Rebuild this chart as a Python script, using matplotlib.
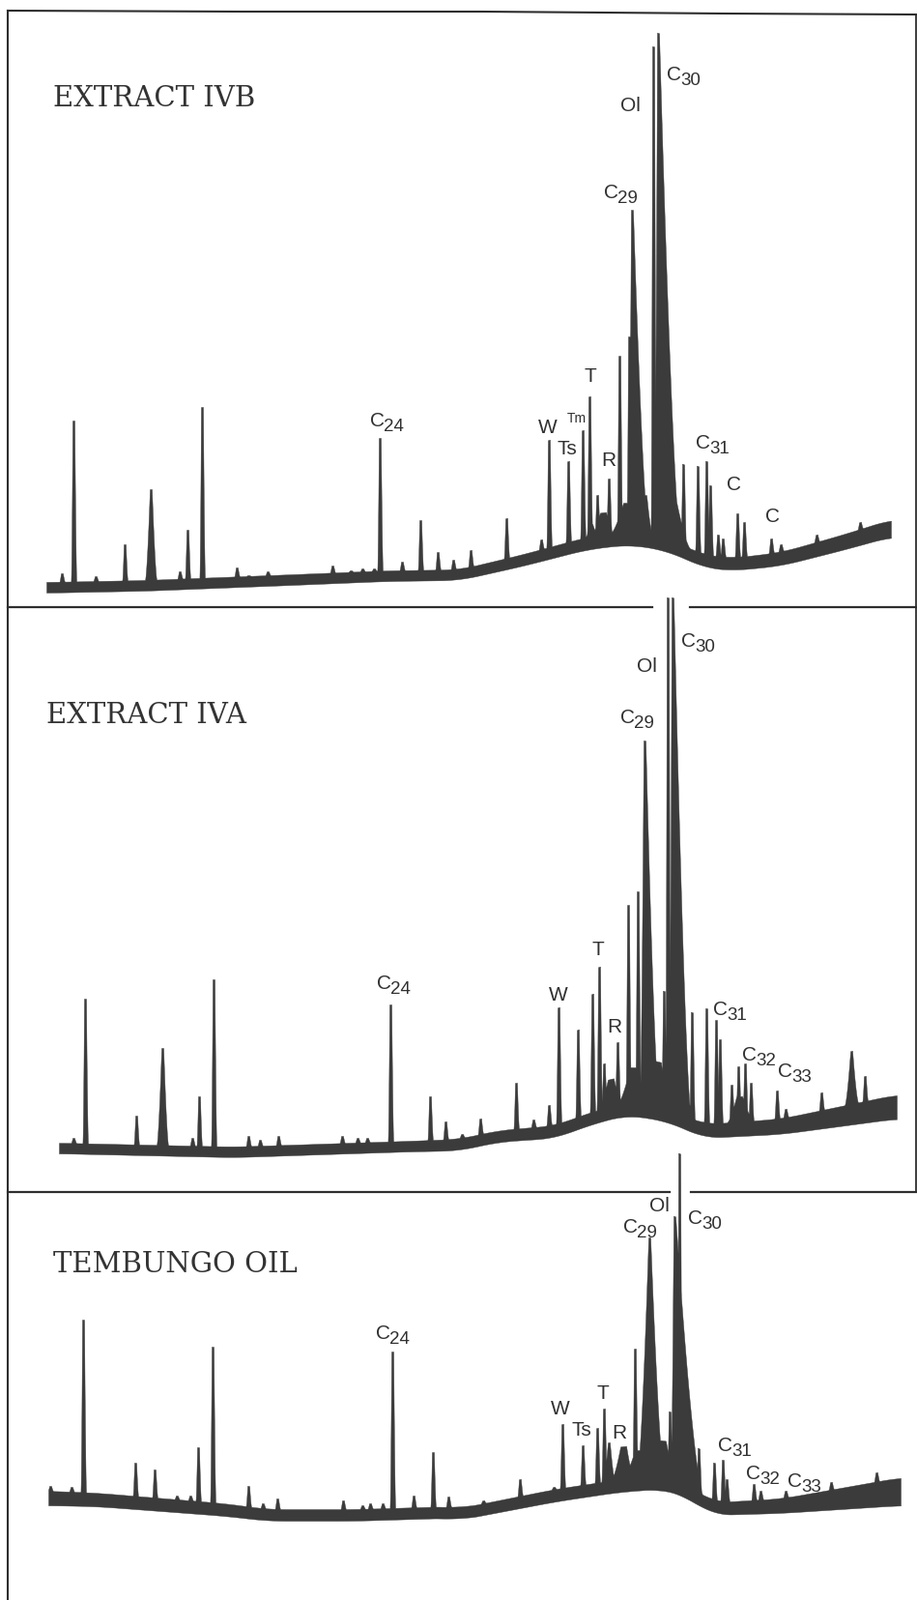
import numpy as np
import matplotlib.pyplot as plt

plt.rcParams['font.family'] = ['Liberation Sans', 'DejaVu Sans']

INK = '#3b3b3b'
RULE = '#2e2e2e'

# ---- EXTRACT IVB
ivb_base_x = [48, 150, 303, 400, 475, 542, 608, 652, 692, 728, 758, 808, 875, 922]
ivb_base_y = [613, 611, 605, 601, 600, 585, 568, 563, 570, 587, 590, 585, 568, 555]
ivb_band = [11, 11, 11, 11, 11, 12, 13, 13, 13, 13, 13, 14, 16, 18]
ivb_peak_x = [64, 76, 99, 129, 186, 194, 209, 245, 257, 277, 344, 363, 375, 387, 393,
              416, 435, 453, 469, 487, 524, 542, 560, 568, 588, 603, 610, 618, 630,
              641, 651, 660, 676, 677, 707, 722, 731, 735, 743, 748, 763, 770, 798,
              808, 845, 890]
ivb_peak_top = [593, 435, 596, 563, 591, 548, 421, 587, 595, 591, 585, 590, 588, 588, 453,
                581, 538, 571, 579, 569, 536, 575, 558, 455, 477, 445, 410, 512, 495,
                368, 348, 395, 48, 448, 480, 482, 477, 502, 553, 557, 531, 540, 557,
                563, 553, 540]
ivb_wide_x = [156, 654, 681, 648, 697, 624, 612, 668]
ivb_wide_top = [506, 217, 34, 520, 518, 530, 542, 512]
ivb_wide_wl = [5, 3, 3, 14, 8, 10, 6, 6]
ivb_wide_wr = [5, 16, 22, 10, 14, 8, 6, 6]

# ---- EXTRACT IVA
iva_base_x = [61, 242, 424, 475, 515, 575, 605, 648, 692, 728, 808, 928]
iva_base_y = [1193, 1197, 1191, 1190, 1181, 1177, 1165, 1153, 1160, 1177, 1173, 1157]
iva_band = [11, 11, 11, 12, 12, 13, 13, 13, 13, 14, 16, 25]
iva_peak_x = [76, 88, 141, 199, 206, 221, 257, 269, 288, 354, 370, 380, 404, 445, 461,
              478, 497, 534, 552, 568, 578, 598, 613, 620, 625, 639, 650, 660, 672,
              687, 691, 716, 731, 741, 745, 757, 764, 771, 777, 804, 813, 840, 850, 895]
iva_peak_top = [1177, 1033, 1154, 1177, 1134, 1013, 1175, 1179, 1175, 1175, 1177, 1177,
                1039, 1134, 1160, 1173, 1157, 1120, 1158, 1143, 1042, 1065, 1028, 1000,
                1100, 1078, 936, 922, 968, 1025, 618, 1047, 1043, 1055, 1075, 1122,
                1103, 1100, 1120, 1128, 1147, 1155, 1130, 1113]
iva_wide_x = [168, 667, 696, 655, 703, 765, 881, 632, 681]
iva_wide_top = [1084, 766, 618, 1104, 1110, 1134, 1087, 1116, 1098]
iva_wide_wl = [5, 4, 3, 14, 6, 10, 6, 10, 8]
iva_wide_wr = [5, 14, 18, 10, 14, 12, 6, 8, 8]

# ---- TEMBUNGO OIL
tem_base_x = [50, 100, 233, 277, 367, 467, 475, 575, 642, 685, 708, 738, 808, 932]
tem_base_y = [1557, 1558, 1568, 1573, 1573, 1570, 1572, 1553, 1543, 1540, 1547, 1567,
              1565, 1557]
tem_band = [15, 14, 13, 12, 12, 12, 12, 13, 13, 13, 13, 13, 15, 29]
tem_peak_x = [52, 74, 86, 110, 140, 160, 183, 197, 205, 220, 257, 272, 287, 355, 375,
              383, 396, 406, 428, 448, 464, 500, 538, 573, 582, 603, 618, 625, 657,
              667, 693, 703, 723, 739, 748, 752, 780, 787, 813, 860, 907]
tem_peak_top = [1537, 1538, 1365, 1547, 1513, 1520, 1547, 1547, 1497, 1393, 1537, 1555,
                1550, 1552, 1557, 1555, 1555, 1398, 1547, 1502, 1548, 1552, 1530, 1538,
                1473, 1495, 1477, 1457, 1395, 1417, 1460, 1193, 1498, 1513, 1510, 1530,
                1535, 1542, 1542, 1533, 1523]
tem_wide_x = [630, 645, 672, 698, 660, 686]
tem_wide_top = [1492, 1496, 1280, 1258, 1500, 1490]
tem_wide_wl = [5, 10, 12, 3, 14, 8]
tem_wide_wr = [5, 8, 14, 28, 12, 10]

# panel titles (left x, baseline y)
titles = ['EXTRACT IVB', 'EXTRACT IVA', 'TEMBUNGO OIL']
title_x = [55, 48, 55]
title_y = [110, 748, 1316]

# peak labels: text, subscript, left x, baseline y
ivb_lab = ['C', 'Ol', 'C', 'W', 'Ts', 'T', 'R', 'C', 'C', 'C', 'C']
ivb_sub = ['30', '', '29', '', '', '', '', '24', '31', '', '']
ivb_lab_x = [690, 642, 625, 557, 577, 605, 622, 383, 720, 752, 792]
ivb_lab_y = [83, 115, 205, 448, 470, 395, 482, 441, 464, 507, 540]

iva_lab = ['C', 'Ol', 'C', 'T', 'W', 'R', 'C', 'C', 'C', 'C']
iva_sub = ['30', '', '29', '', '', '', '24', '31', '32', '33']
iva_lab_x = [705, 659, 642, 613, 568, 628, 390, 738, 768, 805]
iva_lab_y = [669, 695, 748, 988, 1035, 1068, 1023, 1050, 1097, 1114]

tem_lab = ['Ol', 'C', 'C', 'W', 'Ts', 'T', 'R', 'C', 'C', 'C', 'C']
tem_sub = ['', '30', '29', '', '', '', '', '24', '31', '32', '33']
tem_lab_x = [672, 712, 645, 570, 592, 618, 633, 389, 743, 772, 815]
tem_lab_y = [1253, 1266, 1275, 1463, 1485, 1447, 1488, 1385, 1501, 1530, 1538]


def smooth(v, n=201):
    pad = np.pad(v, n // 2, mode='edge')
    return np.convolve(pad, np.ones(n) / n, mode='valid')


def trace(bx, by, band, px, ptop, wx, wtop, wl, wr):
    x = np.arange(bx[0], bx[-1] + 0.01, 0.2)
    lower = smooth(np.interp(x, bx, by))
    floor = lower - smooth(np.interp(x, bx, band))
    upper = floor.copy()
    xs = list(px) + list(wx)
    tops = list(ptop) + list(wtop)
    left = [1.6] * len(px) + list(wl)
    right = [2.0] * len(px) + list(wr)
    for xi, ti, a, b in zip(xs, tops, left, right):
        h = np.interp(xi, x, floor) - ti
        r = 3.0 if (h < 60 and a + b > 12) else 1.0   # low humps get a flat top
        d = x - xi
        spread = np.where(d < 0, a, b)
        frac = np.clip((np.abs(d) - r) / spread, 0, 1)
        upper = np.minimum(upper, floor - h * (1 - frac) ** 1.5)
    return x, lower, upper


fig = plt.figure(figsize=(9.49, 16.55), dpi=100)
ax = fig.add_axes([0, 0, 1, 1])
ax.set_xlim(0, 949)
ax.set_ylim(1655, 0)
ax.axis('off')

# page frame and panel rules
ax.plot([8, 250, 500, 750, 948], [11, 12, 12, 14, 15], color=RULE, lw=1.5)
ax.plot([8, 8], [11, 1655], color=RULE, lw=1.5)
ax.plot([948, 948], [15, 1233], color=RULE, lw=1.3)
ax.plot([8, 675], [628, 628], color=RULE, lw=1.6)
ax.plot([714, 949], [628, 628], color=RULE, lw=1.6)
ax.plot([8, 693], [1233, 1233], color=RULE, lw=1.6)
ax.plot([715, 949], [1233, 1233], color=RULE, lw=1.6)

panels = [
    (ivb_base_x, ivb_base_y, ivb_band, ivb_peak_x, ivb_peak_top,
     ivb_wide_x, ivb_wide_top, ivb_wide_wl, ivb_wide_wr,
     ivb_lab, ivb_sub, ivb_lab_x, ivb_lab_y),
    (iva_base_x, iva_base_y, iva_band, iva_peak_x, iva_peak_top,
     iva_wide_x, iva_wide_top, iva_wide_wl, iva_wide_wr,
     iva_lab, iva_sub, iva_lab_x, iva_lab_y),
    (tem_base_x, tem_base_y, tem_band, tem_peak_x, tem_peak_top,
     tem_wide_x, tem_wide_top, tem_wide_wl, tem_wide_wr,
     tem_lab, tem_sub, tem_lab_x, tem_lab_y),
]

for i, p in enumerate(panels):
    x, lo, up = trace(*p[:9])
    ax.fill_between(x, lo, up, color=INK, lw=0.3, edgecolor=INK)
    for lab, sub, lx, ly in zip(*p[9:]):
        ax.text(lx, ly, lab, fontsize=15, color='#303030', ha='left', va='baseline')
        if sub:
            ax.text(lx + 14.5, ly + 5, sub, fontsize=13.5, color='#303030',
                    ha='left', va='baseline')
    ax.text(title_x[i], title_y[i], titles[i], family='DejaVu Serif', fontsize=21,
            color='#333333', ha='left', va='baseline')

# the small "Tm" tag above Ts in the top trace
ax.text(587, 437, 'Tm', fontsize=10, color='#303030', ha='left', va='baseline')

fig.savefig('out.png', dpi=100, facecolor='white')
